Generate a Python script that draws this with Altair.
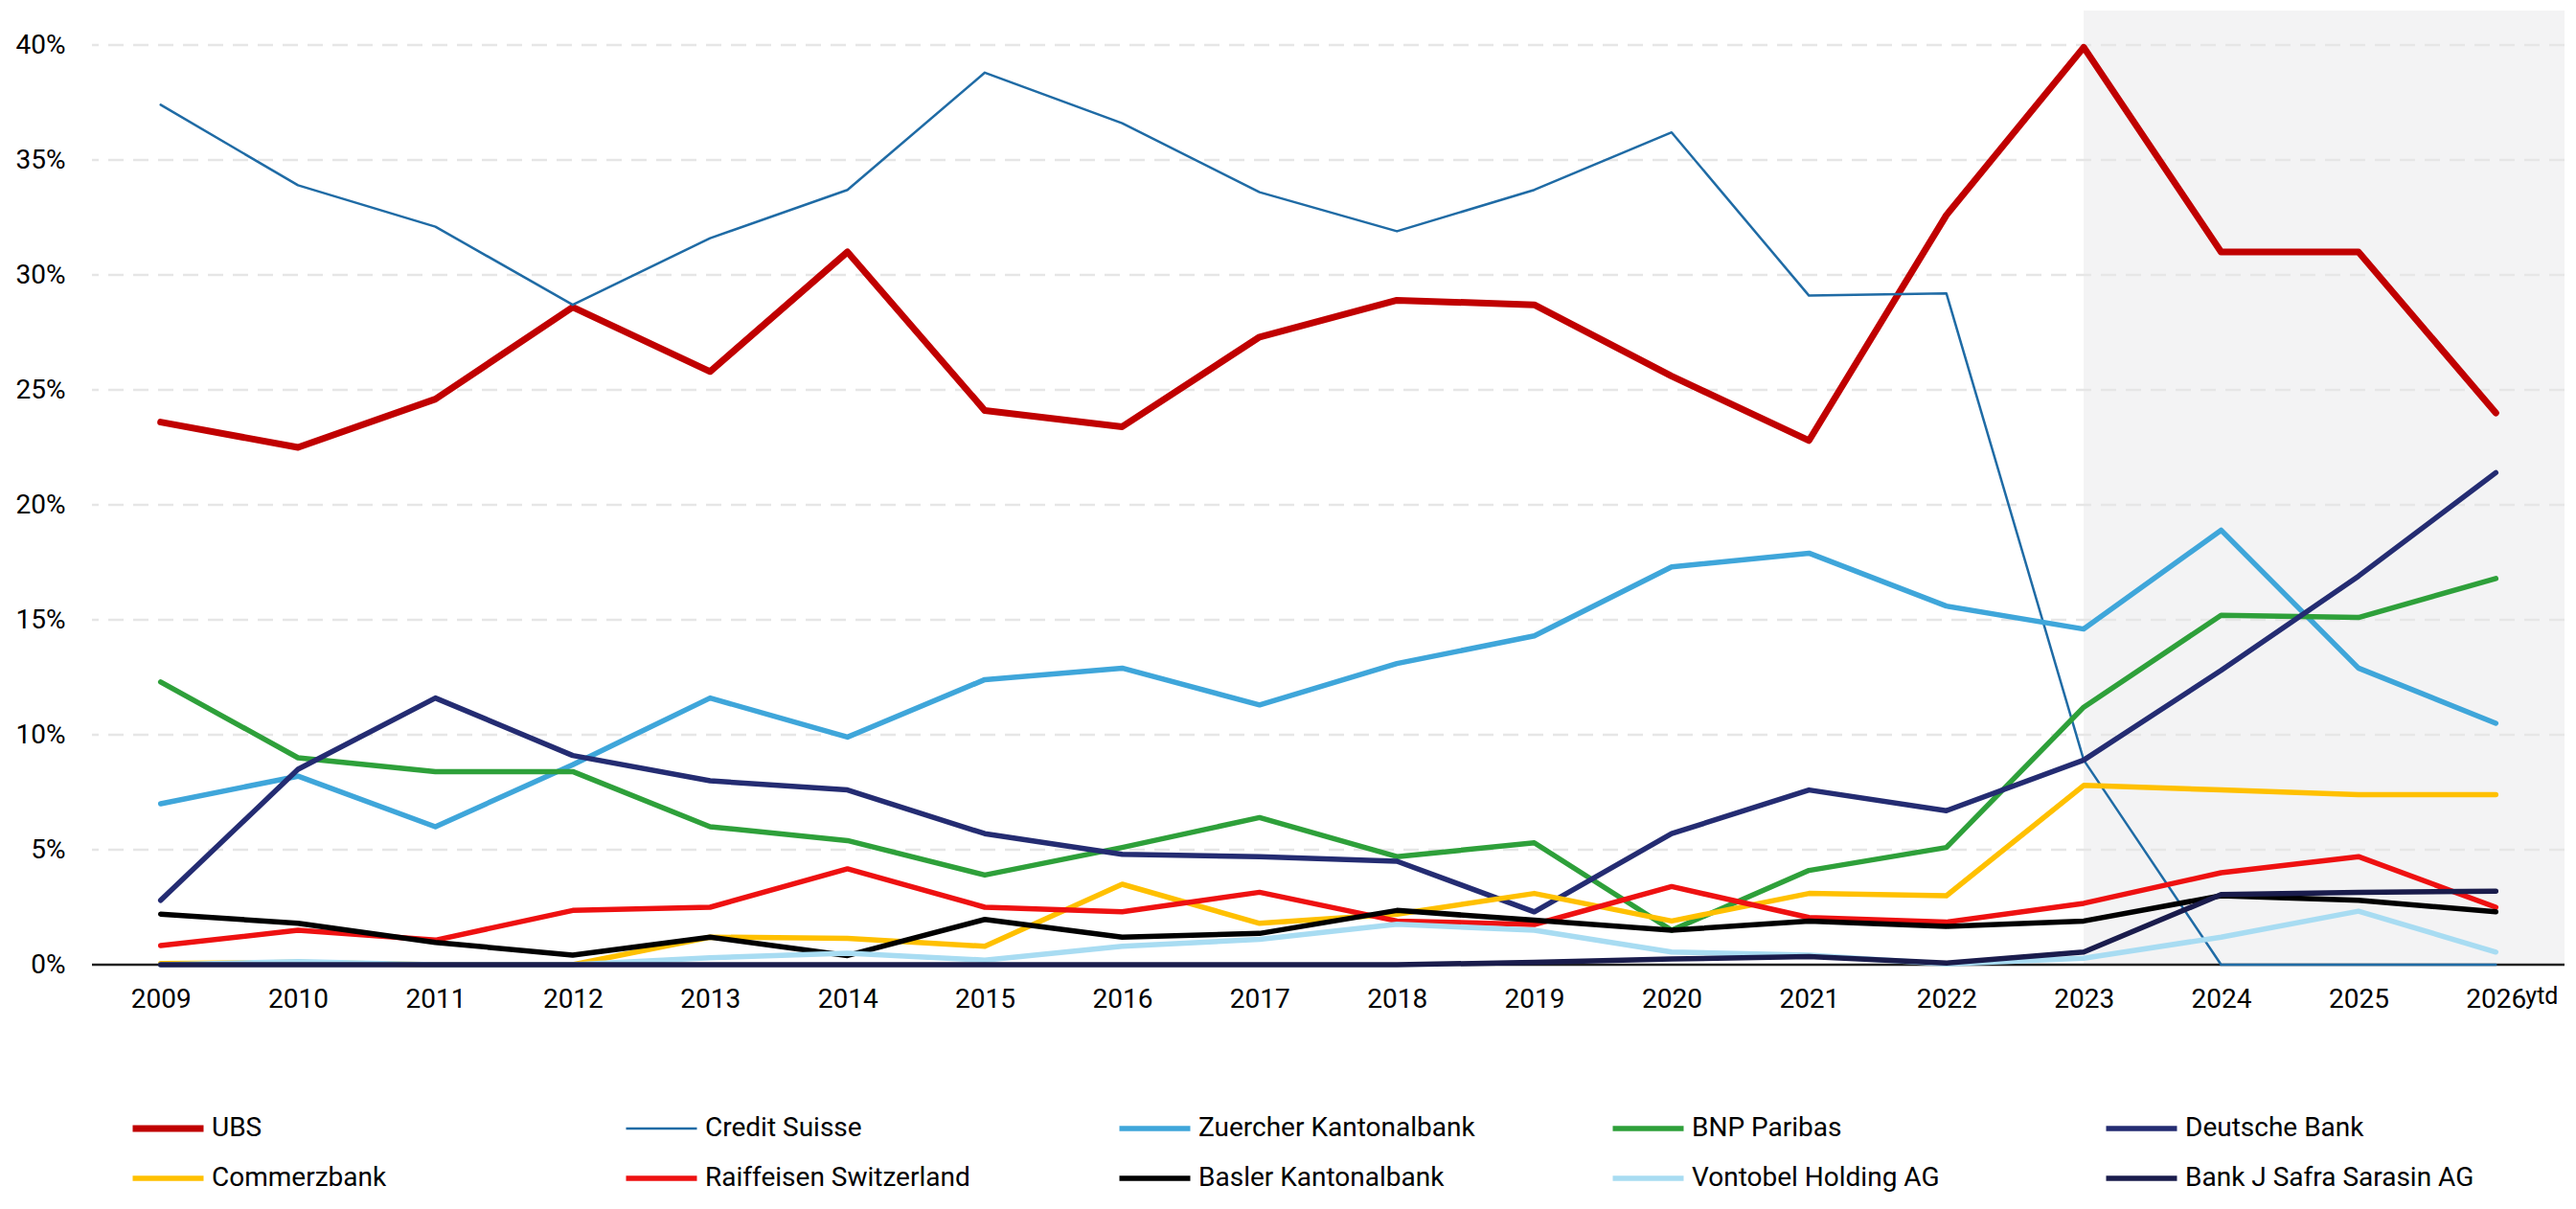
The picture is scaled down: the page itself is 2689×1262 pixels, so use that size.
import altair as alt
import pandas as pd

years = list(range(2009, 2027))

banks = ["UBS", "Credit Suisse", "Zuercher Kantonalbank", "BNP Paribas", "Deutsche Bank",
         "Commerzbank", "Raiffeisen Switzerland", "Basler Kantonalbank", "Vontobel Holding AG",
         "Bank J Safra Sarasin AG"]

ubs = [23.6, 22.5, 24.6, 28.6, 25.8, 31.0, 24.1, 23.4, 27.3, 28.9, 28.7, 25.6, 22.8, 32.6, 39.9, 31.0, 31.0, 24.0]
credit_suisse = [37.4, 33.9, 32.1, 28.7, 31.6, 33.7, 38.8, 36.6, 33.6, 31.9, 33.7, 36.2, 29.1, 29.2, 8.9, 0.0, 0.0, 0.0]
zkb = [7.0, 8.2, 6.0, 8.7, 11.6, 9.9, 12.4, 12.9, 11.3, 13.1, 14.3, 17.3, 17.9, 15.6, 14.6, 18.9, 12.9, 10.5]
bnp = [12.3, 9.0, 8.4, 8.4, 6.0, 5.4, 3.9, 5.1, 6.4, 4.7, 5.3, 1.5, 4.1, 5.1, 11.2, 15.2, 15.1, 16.8]
deutsche = [2.8, 8.5, 11.6, 9.1, 8.0, 7.6, 5.7, 4.8, 4.7, 4.5, 2.3, 5.7, 7.6, 6.7, 8.9, 12.8, 16.9, 21.4]
commerz = [0.05, 0.1, 0.0, 0.0, 1.2, 1.15, 0.8, 3.5, 1.8, 2.2, 3.1, 1.9, 3.1, 3.0, 7.8, 7.6, 7.4, 7.4]
raiffeisen = [0.83, 1.5, 1.07, 2.36, 2.5, 4.17, 2.5, 2.3, 3.15, 1.9, 1.75, 3.4, 2.05, 1.85, 2.67, 4.0, 4.7, 2.5]
basler = [2.2, 1.8, 0.97, 0.42, 1.2, 0.4, 1.97, 1.2, 1.36, 2.36, 1.94, 1.5, 1.9, 1.67, 1.9, 3.0, 2.8, 2.3]
vontobel = [0.0, 0.14, 0.0, 0.0, 0.3, 0.5, 0.2, 0.8, 1.1, 1.76, 1.5, 0.55, 0.42, 0.03, 0.28, 1.2, 2.33, 0.55]
safra = [0.0, 0.0, 0.0, 0.0, 0.0, 0.0, 0.0, 0.0, 0.0, 0.0, 0.1, 0.25, 0.35, 0.07, 0.55, 3.05, 3.15, 3.2]

series = [ubs, credit_suisse, zkb, bnp, deutsche, commerz, raiffeisen, basler, vontobel, safra]

colors = ["#C00000", "#1F6BA5", "#3FA6DA", "#2EA03A", "#242C72",
          "#FFC000", "#EE1111", "#000000", "#A8DCF2", "#1A1C4C"]
widths = [7, 2.5, 5.5, 5.5, 5.5, 5.5, 5.5, 5.5, 5.5, 5.5]

grid_values = [0.05, 0.10, 0.15, 0.20, 0.25, 0.30, 0.35, 0.40]
shade_start = [2023]
shade_end = [2026.5]
y_top = 0.415

rows = []
for name, vals in zip(banks, series):
    for yr, v in zip(years, vals):
        rows.append({"Bank": name, "Year": yr, "Share": v / 100.0})
df = pd.DataFrame(rows)

shade_df = pd.DataFrame({"Year": shade_start, "Year2": shade_end, "Share": [0.0], "Share2": [y_top]})
grid_df = pd.DataFrame({"Share": grid_values})
zero_df = pd.DataFrame({"Share": [0.0]})
ytd_df = pd.DataFrame({"Year": [2026], "Share": [0.0], "t": ["ytd"]})

xscale = alt.Scale(domain=[2008.5, 2026.5], nice=False, zero=False)
yscale = alt.Scale(domain=[0, y_top], nice=False)

xaxis = alt.Axis(values=years, format="d", title=None, grid=False, domain=False,
                 ticks=False, labelFontSize=28, labelPadding=22, labelColor="#000000")
yaxis = alt.Axis(values=[0.0] + grid_values, format=".0%", title=None, grid=False,
                 domain=False, ticks=False, labelFontSize=28, labelPadding=28,
                 labelColor="#000000")

shade = alt.Chart(shade_df).mark_rect(color="#F3F3F4").encode(
    x=alt.X("Year:Q", scale=xscale, axis=xaxis),
    x2="Year2:Q",
    y=alt.Y("Share:Q", scale=yscale, axis=yaxis),
    y2="Share2:Q",
)

grid = alt.Chart(grid_df).mark_rule(color="#E6E6E6", strokeWidth=2.5, strokeDash=[16, 10]).encode(
    y=alt.Y("Share:Q", scale=yscale, axis=yaxis)
)

zero = alt.Chart(zero_df).mark_rule(color="#222222", strokeWidth=2.5).encode(
    y=alt.Y("Share:Q", scale=yscale, axis=yaxis)
)

legend_opts = dict(title=None, orient="none", legendX=39, legendY=1152, direction="horizontal",
                   columns=5, symbolType="stroke", symbolSize=5476,
                   clipHeight=30, labelFontSize=28, labelOffset=5,
                   gridAlign="all", columnPadding=127, rowPadding=22,
                   labelColor="#000000", labelLimit=400)

lines = alt.Chart(df).mark_line(strokeJoin="round", strokeCap="round").encode(
    x=alt.X("Year:Q", scale=xscale, axis=xaxis),
    y=alt.Y("Share:Q", scale=yscale, axis=yaxis),
    color=alt.Color("Bank:N", scale=alt.Scale(domain=banks, range=colors), sort=banks,
                    legend=alt.Legend(**legend_opts)),
    strokeWidth=alt.StrokeWidth("Bank:N", scale=alt.Scale(type="ordinal", domain=banks, range=widths),
                                sort=banks, legend=alt.Legend(**legend_opts)),
    detail="Bank:N",
)

ytd = alt.Chart(ytd_df).mark_text(align="left", baseline="alphabetic", fontSize=25, dx=31, dy=41,
                                   color="#000000").encode(
    x=alt.X("Year:Q", scale=xscale, axis=xaxis),
    y=alt.Y("Share:Q", scale=yscale, axis=yaxis),
    text="t:N",
)

chart = alt.layer(shade, grid, zero, lines, ytd).properties(
    width=2581, height=996,
    autosize=alt.AutoSizeParams(type="none"),
    padding={"left": 88, "top": 3, "right": 4, "bottom": 250},
).configure(font="Roboto").configure_view(stroke=None).configure_text(font="Roboto")

chart.save("out.html", embed_options={"renderer": "svg", "actions": False})
